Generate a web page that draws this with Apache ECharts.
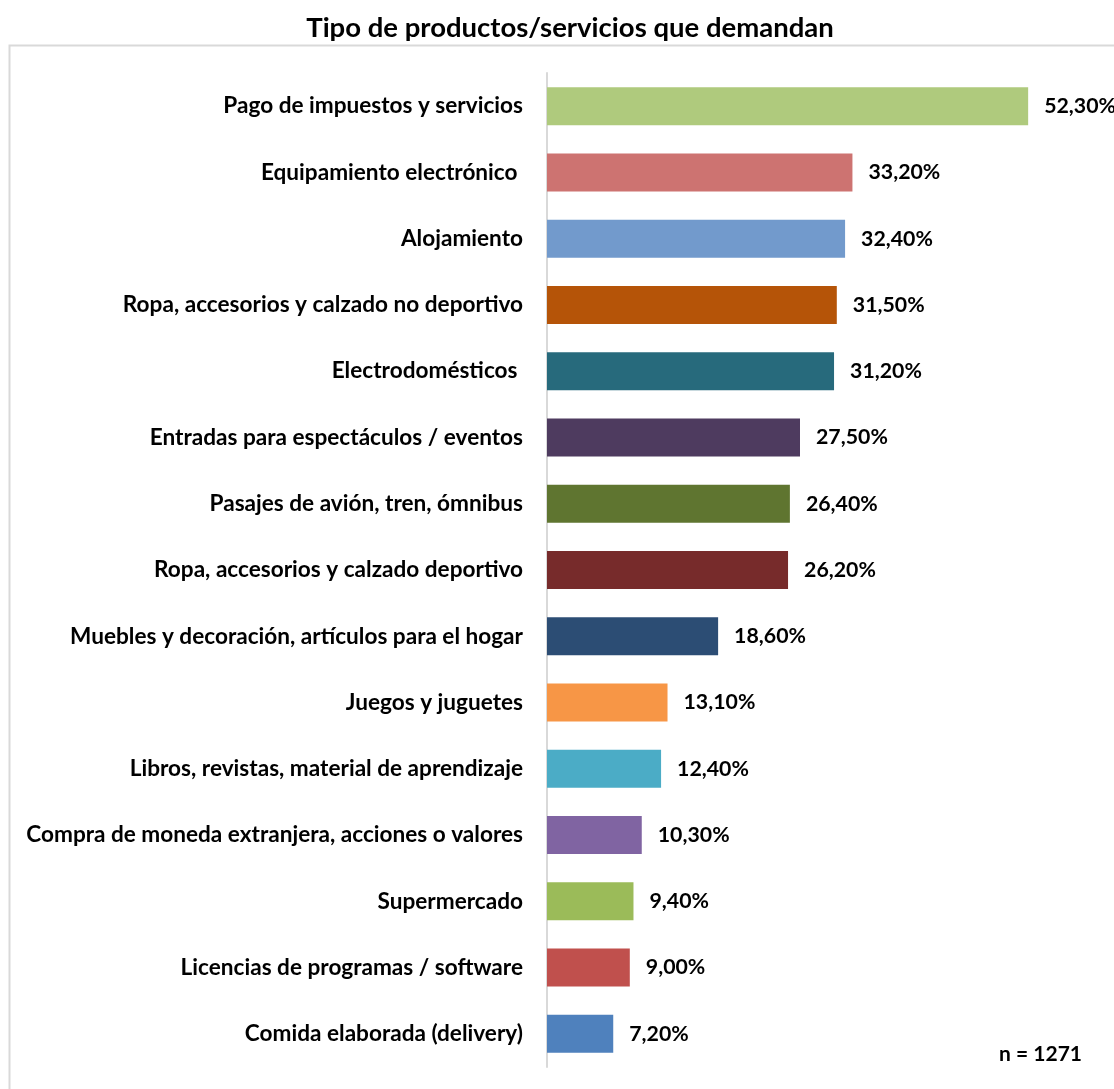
<!DOCTYPE html>
<html>
<head>
<meta charset="utf-8">
<script src="https://cdn.jsdelivr.net/npm/echarts@6/dist/echarts.min.js"></script>
<style>
  html, body { margin: 0; padding: 0; background: #fff; }
  #chart { width: 1114px; height: 1089px; }
</style>
</head>
<body>
<div id="chart"></div>
<script>
// Categories, top to bottom
const categories = [
  'Pago de impuestos y servicios',
  'Equipamiento electrónico ',
  'Alojamiento',
  'Ropa, accesorios y calzado no deportivo',
  'Electrodomésticos ',
  'Entradas para espectáculos / eventos',
  'Pasajes de avión, tren, ómnibus',
  'Ropa, accesorios y calzado deportivo',
  'Muebles y decoración, artículos para el hogar',
  'Juegos y juguetes',
  'Libros, revistas, material de aprendizaje',
  'Compra de moneda extranjera, acciones o valores',
  'Supermercado',
  'Licencias de programas / software',
  'Comida elaborada (delivery)'
];

// Share of respondents (%)
const values = [52.3, 33.2, 32.4, 31.5, 31.2, 27.5, 26.4, 26.2, 18.6, 13.1, 12.4, 10.3, 9.4, 9.0, 7.2];

// One fill per bar
const barColors = [
  '#AFCA7D', '#CD7371', '#729ACC', '#B55408', '#276A7C',
  '#4E3B5F', '#5F7530', '#772B2B', '#2C4D74', '#F79646',
  '#4BACC6', '#8064A2', '#9BBB59', '#C0504D', '#4F81BD'
];

const sampleNote = 'n = 1271';
const FONT = 'Lato, "Open Sans", sans-serif';

const chart = echarts.init(document.getElementById('chart'));

chart.setOption({
  backgroundColor: '#ffffff',
  animation: false,
  title: {
    text: 'Tipo de productos/servicios que demandan',
    left: 565,
    textAlign: 'center',
    top: 9,
    textStyle: { fontFamily: FONT, fontWeight: 'bold', fontSize: 27.5, color: '#000' }
  },
  graphic: [
    {
      type: 'rect',
      left: 7, top: 43,
      shape: { width: 1130, height: 1100 },
      style: { fill: 'none', stroke: '#d9d9d9', lineWidth: 2 },
      z: 0
    },
    {
      type: 'text',
      right: 32, top: 1044,
      style: { text: sampleNote, font: 'bold 21px ' + FONT, fill: '#000' },
      z: 10
    }
  ],
  grid: { left: 547, right: 15, top: 73, bottom: 22, containLabel: false },
  xAxis: {
    type: 'value',
    min: 0, max: 60,
    show: false
  },
  yAxis: {
    type: 'category',
    data: categories,
    inverse: true,
    axisLine: { show: true, lineStyle: { color: '#d9d9d9', width: 2 } },
    axisTick: { show: false },
    axisLabel: {
      margin: 24,
      fontFamily: FONT,
      fontWeight: 'bold',
      fontSize: 22.6,
      color: '#000'
    }
  },
  series: [{
    type: 'bar',
    barWidth: 38,
    data: values.map((v, i) => ({ value: v, itemStyle: { color: barColors[i] } })),
    label: {
      show: true,
      position: 'right',
      distance: 16,
      fontFamily: FONT,
      fontWeight: 'bold',
      fontSize: 21.3,
      color: '#000',
      formatter: p => p.value.toFixed(2).replace('.', ',') + '%'
    }
  }]
});
</script>
</body>
</html>
